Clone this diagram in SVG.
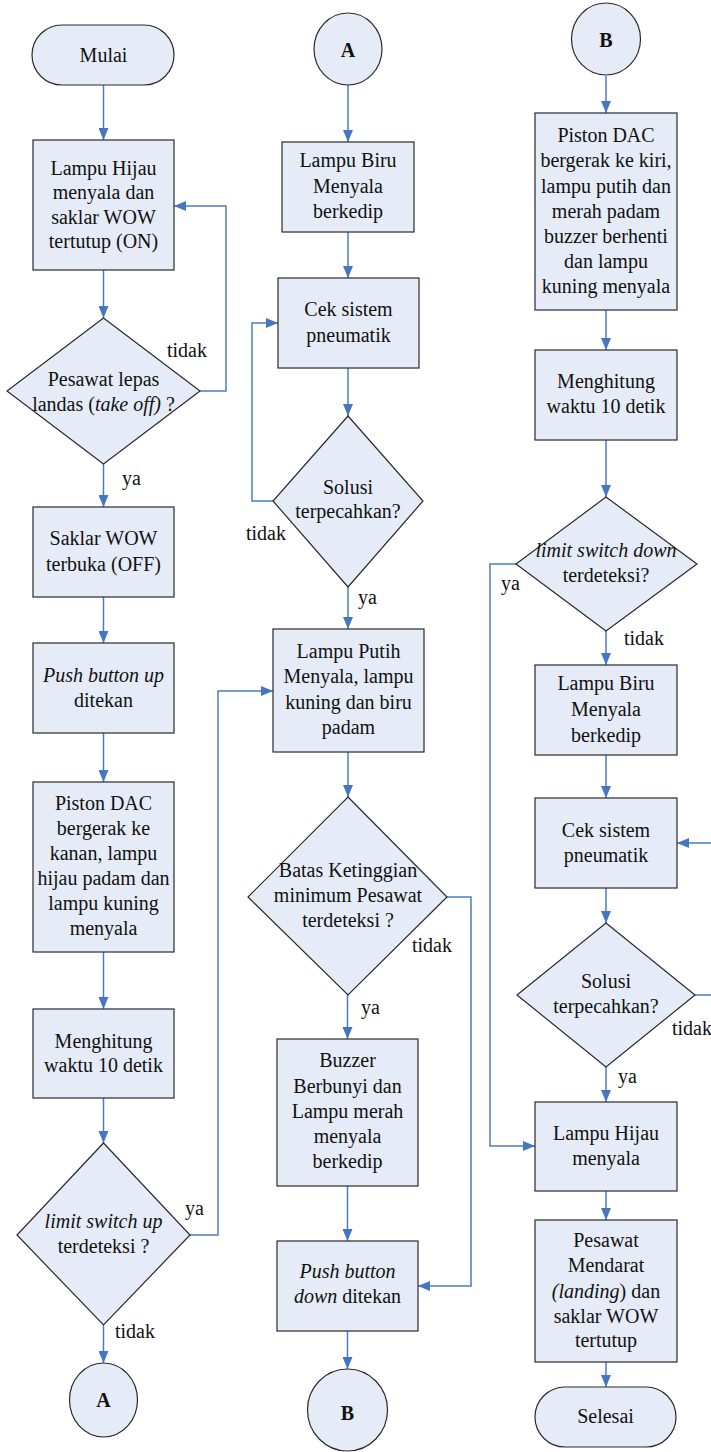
<svg xmlns="http://www.w3.org/2000/svg" width="711" height="1452" viewBox="0 0 711 1452">
<defs>
<marker id="ah" markerUnits="userSpaceOnUse" markerWidth="12" markerHeight="10" refX="12" refY="5" orient="auto">
<path d="M0,0 L12,5 L0,10 z" fill="#4676c2"/>
</marker>
<style>
.n{fill:#e6ecf7;stroke:#2a2a2a;stroke-width:1.2}
text{font-family:'Liberation Serif','Times New Roman',Times,'DejaVu Serif',serif;font-size:20px;fill:#111}
.t{text-anchor:middle}
.b{font-weight:bold}
.i{font-style:italic}
.c{fill:none;stroke:#4a7cc4;stroke-width:1.5;marker-end:url(#ah)}
</style>
</defs>
<rect width="711" height="1452" fill="#ffffff"/>

<g id="connectors">
<path class="c" d="M103.5,85 V140"/>
<path class="c" d="M103.5,270 V318"/>
<path class="c" d="M200,391 H226 V206 H174"/>
<path class="c" d="M103.5,464 V507"/>
<path class="c" d="M103.5,597 V643"/>
<path class="c" d="M103.5,733 V782"/>
<path class="c" d="M103.5,952 V1009"/>
<path class="c" d="M103.5,1098 V1143"/>
<path class="c" d="M103.5,1325 V1363"/>
<path class="c" d="M190,1235 H218 V691 H273"/>
<path class="c" d="M348,85 V142"/>
<path class="c" d="M348,232 V278"/>
<path class="c" d="M348,368 V416"/>
<path class="c" d="M273,501 H252 V323 H278"/>
<path class="c" d="M348,587 V629"/>
<path class="c" d="M348,752 V797"/>
<path class="c" d="M447,897 H471 V1286 H418"/>
<path class="c" d="M347.5,995 V1039"/>
<path class="c" d="M347.5,1186 V1241"/>
<path class="c" d="M347.5,1331 V1369"/>
<path class="c" d="M606,76 V113"/>
<path class="c" d="M606,310 V350"/>
<path class="c" d="M606,440 V497"/>
<path class="c" d="M516,564 H490 V1146 H535"/>
<path class="c" d="M606,631 V665"/>
<path class="c" d="M606,755 V798"/>
<path class="c" d="M606,888 V923"/>
<path class="c" d="M695,995 H715 V843 H677"/>
<path class="c" d="M606,1067 V1102"/>
<path class="c" d="M606,1191 V1220"/>
<path class="c" d="M606,1362 V1387"/>
</g>

<g id="labels">
<text x="167" y="357">tidak</text>
<text x="122" y="485">ya</text>
<text x="185" y="1215">ya</text>
<text x="115" y="1338">tidak</text>
<text x="246" y="540">tidak</text>
<text x="358" y="604">ya</text>
<text x="412" y="952">tidak</text>
<text x="361" y="1014">ya</text>
<text x="501" y="590">ya</text>
<text x="624" y="645">tidak</text>
<text x="672" y="1035">tidak</text>
<text x="618" y="1083">ya</text>
</g>

<g id="mulai">
<rect class="n" x="32" y="25" width="142" height="60" rx="30"/>
<text class="t" x="103.5" y="62">Mulai</text>
</g>
<g id="hijau_on">
<rect class="n" x="33" y="140" width="141" height="130"/>
<text class="t"><tspan x="103.5" y="175">Lampu Hijau</tspan><tspan x="103.5" y="199">menyala dan</tspan><tspan x="103.5" y="224">saklar WOW</tspan><tspan x="103.5" y="248">tertutup (ON)</tspan></text>
</g>
<g id="lepas_landas">
<polygon class="n" points="103.5,318 200,391 103.5,464 7,391"/>
<text class="t"><tspan x="103.5" y="386">Pesawat lepas</tspan><tspan x="103.5" y="411">landas (<tspan class="i">take off)</tspan> ?</tspan></text>
</g>
<g id="wow_off">
<rect class="n" x="33" y="507" width="141" height="90"/>
<text class="t"><tspan x="103.5" y="545">Saklar WOW</tspan><tspan x="103.5" y="571">terbuka (OFF)</tspan></text>
</g>
<g id="push_up">
<rect class="n" x="33" y="643" width="141" height="90"/>
<text class="t"><tspan x="103.5" y="682" class="i">Push button up</tspan><tspan x="103.5" y="707">ditekan</tspan></text>
</g>
<g id="piston_kanan">
<rect class="n" x="33" y="782" width="141" height="170"/>
<text class="t"><tspan x="103.5" y="810">Piston DAC</tspan><tspan x="103.5" y="835">bergerak ke</tspan><tspan x="103.5" y="860">kanan, lampu</tspan><tspan x="103.5" y="885">hijau padam dan</tspan><tspan x="103.5" y="910">lampu kuning</tspan><tspan x="103.5" y="935">menyala</tspan></text>
</g>
<g id="hitung1">
<rect class="n" x="33" y="1009" width="141" height="89"/>
<text class="t"><tspan x="103.5" y="1048">Menghitung</tspan><tspan x="103.5" y="1072">waktu 10 detik</tspan></text>
</g>
<g id="limit_up">
<polygon class="n" points="103.5,1143 190,1235 103.5,1325 17,1235"/>
<text class="t"><tspan x="103.5" y="1228" class="i">limit switch up</tspan><tspan x="103.5" y="1253">terdeteksi ?</tspan></text>
</g>
<g id="conn_a_out">
<ellipse class="n" cx="103.5" cy="1400" rx="34" ry="37"/>
<text class="t b" x="103.5" y="1407">A</text>
</g>

<g id="conn_a_in">
<ellipse class="n" cx="348" cy="49" rx="34" ry="36"/>
<text class="t b" x="348" y="57">A</text>
</g>
<g id="biru1">
<rect class="n" x="282" y="142" width="132" height="90"/>
<text class="t"><tspan x="348" y="167">Lampu Biru</tspan><tspan x="348" y="193">Menyala</tspan><tspan x="348" y="218">berkedip</tspan></text>
</g>
<g id="cek1">
<rect class="n" x="278" y="278" width="141" height="90"/>
<text class="t"><tspan x="348.5" y="316">Cek sistem</tspan><tspan x="348.5" y="342">pneumatik</tspan></text>
</g>
<g id="solusi1">
<polygon class="n" points="348,416 423,501 348,587 273,501"/>
<text class="t"><tspan x="348" y="494">Solusi</tspan><tspan x="348" y="518">terpecahkan?</tspan></text>
</g>
<g id="putih">
<rect class="n" x="273" y="629" width="151" height="123"/>
<text class="t"><tspan x="348.5" y="658">Lampu Putih</tspan><tspan x="348.5" y="683">Menyala, lampu</tspan><tspan x="348.5" y="709">kuning dan biru</tspan><tspan x="348.5" y="734">padam</tspan></text>
</g>
<g id="batas">
<polygon class="n" points="348,797 447,897 348,995 248,897"/>
<text class="t"><tspan x="348" y="877">Batas Ketinggian</tspan><tspan x="348" y="902">minimum Pesawat</tspan><tspan x="348" y="927">terdeteksi ?</tspan></text>
</g>
<g id="buzzer">
<rect class="n" x="277" y="1039" width="141" height="147"/>
<text class="t"><tspan x="347.5" y="1067">Buzzer</tspan><tspan x="347.5" y="1093">Berbunyi dan</tspan><tspan x="347.5" y="1118">Lampu merah</tspan><tspan x="347.5" y="1143">menyala</tspan><tspan x="347.5" y="1168">berkedip</tspan></text>
</g>
<g id="push_down">
<rect class="n" x="277" y="1241" width="141" height="90"/>
<text class="t"><tspan x="347.5" y="1278" class="i">Push button</tspan><tspan x="347.5" y="1303"><tspan class="i">down</tspan> ditekan</tspan></text>
</g>
<g id="conn_b_out">
<ellipse class="n" cx="347.5" cy="1410" rx="40" ry="41"/>
<text class="t b" x="347.5" y="1420">B</text>
</g>

<g id="conn_b_in">
<ellipse class="n" cx="606" cy="39" rx="34.5" ry="36"/>
<text class="t b" x="606" y="47">B</text>
</g>
<g id="piston_kiri">
<rect class="n" x="535" y="113" width="142" height="197"/>
<text class="t"><tspan x="606" y="142">Piston DAC</tspan><tspan x="606" y="167">bergerak ke kiri,</tspan><tspan x="606" y="193">lampu putih dan</tspan><tspan x="606" y="218">merah padam</tspan><tspan x="606" y="243">buzzer berhenti</tspan><tspan x="606" y="268">dan lampu</tspan><tspan x="606" y="293">kuning menyala</tspan></text>
</g>
<g id="hitung2">
<rect class="n" x="535" y="350" width="142" height="90"/>
<text class="t"><tspan x="606" y="388">Menghitung</tspan><tspan x="606" y="413">waktu 10 detik</tspan></text>
</g>
<g id="limit_down">
<polygon class="n" points="606,497 697,564 606,631 516,564"/>
<text class="t"><tspan x="606" y="557" class="i">limit switch down</tspan><tspan x="606" y="582">terdeteksi?</tspan></text>
</g>
<g id="biru2">
<rect class="n" x="535" y="665" width="142" height="90"/>
<text class="t"><tspan x="606" y="690">Lampu Biru</tspan><tspan x="606" y="716">Menyala</tspan><tspan x="606" y="742">berkedip</tspan></text>
</g>
<g id="cek2">
<rect class="n" x="535" y="798" width="142" height="90"/>
<text class="t"><tspan x="606" y="837">Cek sistem</tspan><tspan x="606" y="862">pneumatik</tspan></text>
</g>
<g id="solusi2">
<polygon class="n" points="606,923 695,995 606,1067 517,995"/>
<text class="t"><tspan x="606" y="988">Solusi</tspan><tspan x="606" y="1013">terpecahkan?</tspan></text>
</g>
<g id="hijau_menyala">
<rect class="n" x="535" y="1102" width="142" height="89"/>
<text class="t"><tspan x="606" y="1140">Lampu Hijau</tspan><tspan x="606" y="1165">menyala</tspan></text>
</g>
<g id="mendarat">
<rect class="n" x="535" y="1220" width="142" height="142"/>
<text class="t"><tspan x="606" y="1247">Pesawat</tspan><tspan x="606" y="1272">Mendarat</tspan><tspan x="606" y="1298"><tspan class="i">(landing</tspan>) dan</tspan><tspan x="606" y="1323">saklar WOW</tspan><tspan x="606" y="1347">tertutup</tspan></text>
</g>
<g id="selesai">
<rect class="n" x="535" y="1387" width="141" height="60" rx="30"/>
<text class="t" x="605.5" y="1423">Selesai</text>
</g>
</svg>
